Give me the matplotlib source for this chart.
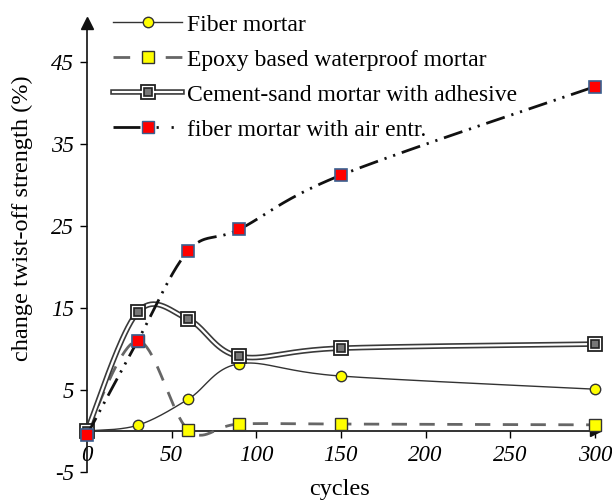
import numpy as np
import matplotlib
matplotlib.use("Agg")
import matplotlib.pyplot as plt
from matplotlib.lines import Line2D

cycles = [0, 30, 60, 90, 150, 300]
fiber = [0.0, 0.7, 3.9, 8.2, 6.7, 5.1]
epoxy = [0.0, 11.0, 0.1, 0.85, 0.85, 0.75]
cement = [0.0, 14.5, 13.6, 9.1, 10.1, 10.6]
fiber_air = [-0.5, 11.0, 22.0, 24.6, 31.2, 42.0]

labels = ["Fiber mortar", "Epoxy based waterproof mortar",
          "Cement-sand mortar with adhesive", "fiber mortar with air entr."]
xticks = [0, 50, 100, 150, 200, 250, 300]
yticks = [-5, 5, 15, 25, 35, 45]


def smooth(x, y, n=40):
    x = np.asarray(x, float); y = np.asarray(y, float)
    P = np.column_stack([x, y])
    P = np.vstack([P[0], P, P[-1]])
    out = []
    t = np.linspace(0, 1, n)
    for i in range(1, len(P) - 2):
        p0, p1, p2, p3 = P[i - 1], P[i], P[i + 1], P[i + 2]
        c1 = p1 + (p2 - p0) / 6.0
        c2 = p2 - (p3 - p1) / 6.0
        tt = t[:, None]
        seg = ((1 - tt) ** 3) * p1 + 3 * ((1 - tt) ** 2) * tt * c1 + 3 * (1 - tt) * tt ** 2 * c2 + tt ** 3 * p2
        out.append(seg if i == 1 else seg[1:])
    S = np.vstack(out)
    return S[:, 0], S[:, 1]


plt.rcParams['font.family'] = ['Liberation Serif', 'DejaVu Serif']

fig = plt.figure(figsize=(6.12, 5.0), dpi=100)
ax = fig.add_axes([0.142, 0.056, 0.830, 0.902])
ax.set_xlim(0, 300)
ax.set_ylim(-5, 50)

air_ls = (0, (7, 2.5, 0.8, 2.5, 0.8, 2.5))
ep_ls = (0, (5.5, 4.5))

# Fiber mortar
sx, sy = smooth(cycles, fiber)
ax.plot(sx, sy, color='#333333', lw=1.0, zorder=3, clip_on=False)
ax.plot(cycles, fiber, ls='none', marker='o', ms=7.5, mfc='#ffff00', mec='#333333', mew=1.0, zorder=4, clip_on=False)

# Epoxy
sx, sy = smooth(cycles, epoxy)
ax.plot(sx, sy, color='#666666', lw=2.0, ls=ep_ls, zorder=3, clip_on=False)
ax.plot(cycles, epoxy, ls='none', marker='s', ms=8.5, mfc='#ffff00', mec='#333333', mew=1.0, zorder=4, clip_on=False)

# Cement-sand (double line)
sx, sy = smooth(cycles, cement)
ax.plot(sx, sy, color='#3a3a3a', lw=4.0, zorder=5, clip_on=False)
ax.plot(sx, sy, color='white', lw=1.6, zorder=5.1, clip_on=False)
ax.plot(cycles, cement, ls='none', marker='s', ms=10, mfc='white', mec='#222222', mew=1.3, zorder=6, clip_on=False)
ax.plot(cycles, cement, ls='none', marker='s', ms=5.5, mfc='#777777', mec='#222222', mew=1.2, zorder=6.1, clip_on=False)

# Fiber with air entrainment
sx, sy = smooth(cycles, fiber_air)
ax.plot(sx, sy, color='#111111', lw=2.0, ls=air_ls, zorder=7, clip_on=False)
ax.plot(cycles, fiber_air, ls='none', marker='s', ms=8.5, mfc='#ff0000', mec='#3a5f8f', mew=1.2, zorder=8, clip_on=False)

# axes styling
for s in ['top', 'right']:
    ax.spines[s].set_visible(False)
ax.spines['bottom'].set_position(('data', 0))
ax.spines['left'].set_bounds(-5, 49.5)
ax.spines['bottom'].set_bounds(0, 300)
for s in ['left', 'bottom']:
    ax.spines[s].set_linewidth(1.2)
    ax.spines[s].set_color('#111111')
ax.plot([0], [49.8], marker='^', ms=8, color='#111111', clip_on=False, zorder=9)
ax.plot([300], [0], marker='>', ms=7, color='#111111', clip_on=False, zorder=2)

ax.set_xticks(xticks)
ax.set_yticks(yticks)
ax.set_xticklabels([str(v) for v in xticks], fontsize=16.5, style='italic')
ax.set_yticklabels([str(v) for v in yticks], fontsize=16.5, style='italic')
ax.tick_params(axis='x', direction='out', length=5, width=1, pad=5)
ax.tick_params(axis='y', direction='out', length=5, width=1, pad=4)

fig.text(22 / 612, 1 - 218 / 500, "change twist-off strength (%)", fontsize=17.5,
         rotation=90, ha='center', va='center')
fig.text(340 / 612, 1 - 490 / 500, "cycles", fontsize=17.5, ha='center', va='center')

# legend
h1 = Line2D([], [], color='#333333', lw=1.0, marker='o', ms=7.5, mfc='#ffff00', mec='#333333')
h2 = Line2D([], [], color='#666666', lw=2.0, ls=(0, (6, 12.8)), marker='s', ms=8.5, mfc='#ffff00', mec='#333333')
h3a = Line2D([], [], color='#3a3a3a', lw=4.0, marker='s', ms=10, mfc='white', mec='#222222', mew=1.3)
h3b = Line2D([], [], color='white', lw=1.6, marker='s', ms=5.5, mfc='#777777', mec='#222222', mew=1.2)
h4 = Line2D([], [], color='#111111', lw=2.0, ls=(0, (9.7, 5.8, 0.8, 4.6, 0.8, 10)), marker='s', ms=8.5, mfc='#ff0000', mec='#3a5f8f')
leg = ax.legend([h1, h2, (h3a, h3b), h4], labels, loc='upper left',
                bbox_to_anchor=(0.033, 1.036), frameon=False, fontsize=17,
                handlelength=2.92, handletextpad=0.2, labelspacing=0.57,
                borderaxespad=0)

fig.savefig("out.png", dpi=100)
